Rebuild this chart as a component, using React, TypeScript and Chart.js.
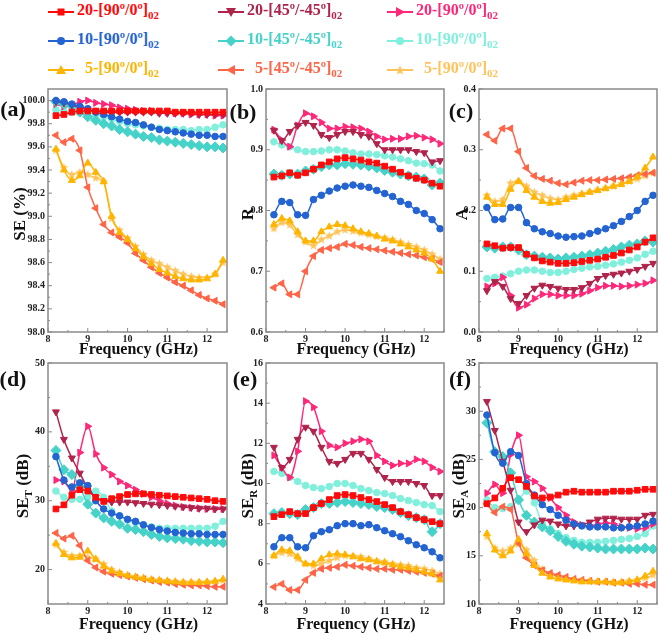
import React, { useEffect, useRef } from "react";
import { Chart, registerables } from "chart.js";

Chart.register(...registerables);

// ---------------- data ----------------
const FREQ = [8.2, 8.4, 8.6, 8.8, 9.0, 9.2, 9.4, 9.6, 9.8, 10.0, 10.2, 10.4, 10.6, 10.8, 11.0, 11.2, 11.4, 11.6, 11.8, 12.0, 12.2, 12.4];
const X_TICKS = [8, 9, 10, 11, 12];

const SERIES_LABELS = ["20-[90º/0º]", "10-[90º/0º]", "5-[90º/0º]", "20-[45º/-45º]", "10-[45º/-45º]", "5-[45º/-45º]", "20-[90º/0º]", "10-[90º/0º]", "5-[90º/0º]"];
const SERIES_SUB = "02";

// (a) SE (%)
const pctSE_20_90 = [99.87, 99.88, 99.9, 99.91, 99.91, 99.91, 99.91, 99.91, 99.91, 99.91, 99.91, 99.91, 99.91, 99.91, 99.91, 99.9, 99.9, 99.9, 99.9, 99.9, 99.9, 99.9];
const pctSE_10_90 = [100.0, 99.99, 99.97, 99.95, 99.93, 99.9, 99.88, 99.86, 99.84, 99.82, 99.81, 99.79, 99.77, 99.75, 99.74, 99.73, 99.72, 99.71, 99.7, 99.7, 99.69, 99.69];
const pctSE_5_90 = [99.58, 99.4, 99.31, 99.35, 99.46, 99.38, 99.3, 99.0, 98.86, 98.8, 98.72, 98.65, 98.59, 98.54, 98.51, 98.48, 98.46, 98.45, 98.45, 98.46, 98.5, 98.62];
const pctSE_20_45 = [99.99, 99.98, 99.96, 99.94, 99.92, 99.91, 99.9, 99.9, 99.9, 99.9, 99.9, 99.9, 99.9, 99.89, 99.89, 99.89, 99.89, 99.89, 99.88, 99.88, 99.88, 99.88];
const pctSE_10_45 = [99.99, 99.97, 99.95, 99.9, 99.86, 99.83, 99.8, 99.78, 99.75, 99.73, 99.71, 99.69, 99.68, 99.66, 99.65, 99.64, 99.63, 99.62, 99.61, 99.6, 99.6, 99.59];
const pctSE_5_45 = [99.7, 99.64, 99.67, 99.57, 99.25, 99.07, 98.93, 98.86, 98.82, 98.77, 98.68, 98.62, 98.56, 98.51, 98.47, 98.43, 98.4, 98.36, 98.32, 98.29, 98.27, 98.24];
const pctSE_20_90b = [99.97, 99.95, 99.96, 99.99, 100.0, 99.98, 99.97, 99.96, 99.94, 99.93, 99.92, 99.91, 99.91, 99.9, 99.9, 99.89, 99.89, 99.88, 99.88, 99.88, 99.87, 99.87];
const pctSE_10_90b = [99.92, 99.91, 99.9, 99.91, 99.9, 99.88, 99.86, 99.84, 99.82, 99.8, 99.79, 99.78, 99.77, 99.76, 99.75, 99.75, 99.75, 99.74, 99.75, 99.75, 99.77, 99.79];
const pctSE_5_90b = [99.57, 99.42, 99.36, 99.38, 99.36, 99.33, 99.3, 98.98, 98.88, 98.81, 98.74, 98.67, 98.62, 98.59, 98.56, 98.53, 98.5, 98.48, 98.47, 98.47, 98.5, 98.6];

// (b) R
const R_20_90 = [0.855, 0.857, 0.862, 0.858, 0.862, 0.868, 0.875, 0.88, 0.885, 0.887, 0.885, 0.883, 0.88, 0.878, 0.873, 0.868, 0.863, 0.857, 0.853, 0.85, 0.845, 0.84];
const R_10_90 = [0.793, 0.815, 0.813, 0.793, 0.792, 0.818, 0.825, 0.832, 0.837, 0.84, 0.842, 0.84, 0.838, 0.833, 0.828, 0.823, 0.815, 0.81, 0.8, 0.795, 0.785, 0.77];
const R_5_90 = [0.777, 0.787, 0.783, 0.765, 0.75, 0.75, 0.765, 0.773, 0.777, 0.775, 0.77, 0.765, 0.762, 0.758, 0.753, 0.75, 0.745, 0.74, 0.735, 0.73, 0.72, 0.7];
const R_20_45 = [0.932, 0.915, 0.93, 0.94, 0.945, 0.94, 0.925, 0.92, 0.925, 0.93, 0.93, 0.925, 0.922, 0.91, 0.9, 0.9, 0.9, 0.9, 0.897, 0.895, 0.88, 0.882];
const R_10_45 = [0.86, 0.858, 0.86, 0.86, 0.865, 0.868, 0.872, 0.875, 0.875, 0.877, 0.876, 0.875, 0.873, 0.87, 0.866, 0.863, 0.86, 0.857, 0.855, 0.852, 0.842, 0.845];
const R_5_45 = [0.673, 0.68, 0.662, 0.662, 0.7, 0.725, 0.735, 0.738, 0.74, 0.745, 0.743, 0.74, 0.738, 0.736, 0.734, 0.732, 0.73, 0.728, 0.726, 0.723, 0.72, 0.715];
const R_20_90b = [0.933, 0.916, 0.905, 0.94, 0.96, 0.955, 0.945, 0.935, 0.935, 0.938, 0.937, 0.935, 0.93, 0.922, 0.917, 0.918, 0.918, 0.922, 0.923, 0.92, 0.917, 0.91];
const R_10_90b = [0.913, 0.908, 0.905, 0.9, 0.897, 0.897, 0.898, 0.9, 0.9, 0.898, 0.895, 0.893, 0.893, 0.892, 0.89, 0.888, 0.885, 0.882, 0.878, 0.877, 0.875, 0.865];
const R_5_90b = [0.77, 0.78, 0.776, 0.76, 0.748, 0.742, 0.752, 0.758, 0.765, 0.768, 0.766, 0.763, 0.76, 0.757, 0.755, 0.752, 0.748, 0.744, 0.74, 0.735, 0.728, 0.72];

// (c) A
const A_20_90 = [0.145, 0.142, 0.138, 0.139, 0.139, 0.128, 0.122, 0.117, 0.115, 0.113, 0.113, 0.114, 0.116, 0.118, 0.12, 0.123, 0.126, 0.13, 0.135, 0.14, 0.148, 0.155];
const A_10_90 = [0.205, 0.185, 0.186, 0.205, 0.205, 0.18, 0.17, 0.165, 0.162, 0.158, 0.156, 0.157, 0.158, 0.162, 0.166, 0.17, 0.175, 0.182, 0.19, 0.2, 0.215, 0.225];
const A_5_90 = [0.222, 0.21, 0.21, 0.235, 0.248, 0.233, 0.222, 0.215, 0.212, 0.213, 0.218, 0.222, 0.226, 0.23, 0.233, 0.236, 0.24, 0.243, 0.248, 0.255, 0.27, 0.288];
const A_20_45 = [0.068, 0.083, 0.075, 0.055, 0.047, 0.06, 0.072, 0.077, 0.075, 0.072, 0.07, 0.07, 0.073, 0.08, 0.088, 0.093, 0.095, 0.097, 0.1, 0.103, 0.108, 0.113];
const A_10_45 = [0.14, 0.138, 0.14, 0.14, 0.135, 0.127, 0.125, 0.123, 0.122, 0.12, 0.122, 0.123, 0.125, 0.127, 0.13, 0.133, 0.136, 0.14, 0.143, 0.145, 0.15, 0.148];
const A_5_45 = [0.325, 0.315, 0.335, 0.335, 0.297, 0.27, 0.257, 0.252, 0.249, 0.245, 0.243, 0.246, 0.249, 0.25, 0.25, 0.251, 0.252, 0.253, 0.255, 0.258, 0.26, 0.262];
const A_20_90b = [0.075, 0.08, 0.09, 0.06, 0.04, 0.045, 0.055, 0.062, 0.062, 0.06, 0.06, 0.06, 0.063, 0.068, 0.073, 0.076, 0.076, 0.075, 0.076, 0.078, 0.08, 0.085];
const A_10_90b = [0.088, 0.09, 0.092, 0.096, 0.1, 0.102, 0.102, 0.1, 0.098, 0.098, 0.1, 0.103, 0.105, 0.107, 0.108, 0.11, 0.112, 0.115, 0.118, 0.122, 0.128, 0.133];
const A_5_90b = [0.225, 0.215, 0.218, 0.245, 0.248, 0.24, 0.23, 0.225, 0.22, 0.218, 0.222, 0.225, 0.228, 0.231, 0.234, 0.237, 0.24, 0.244, 0.248, 0.252, 0.257, 0.262];

// (d) SE_T (dB)
const SET_20_90 = [28.8, 29.4, 30.8, 31.6, 31.4, 30.5, 29.9, 30.3, 30.6, 30.9, 31.0, 31.0, 30.9, 30.8, 30.7, 30.6, 30.5, 30.4, 30.3, 30.2, 30.0, 29.9];
const SET_10_90 = [36.4, 33.0, 32.0, 32.6, 32.2, 30.0, 28.8, 28.2, 27.8, 27.3, 27.0, 26.5, 26.1, 25.8, 25.6, 25.4, 25.3, 25.2, 25.2, 25.1, 25.1, 25.1];
const SET_5_90 = [23.8, 22.2, 21.7, 21.8, 22.7, 21.5, 20.5, 19.8, 19.4, 19.1, 18.9, 18.7, 18.5, 18.4, 18.3, 18.2, 18.1, 18.1, 18.1, 18.2, 18.3, 18.6];
const SET_20_45 = [42.9, 38.9, 36.2, 34.0, 31.8, 30.5, 30.0, 29.8, 29.8, 29.8, 29.7, 29.6, 29.5, 29.4, 29.3, 29.2, 29.1, 29.0, 28.9, 28.9, 28.8, 28.8];
const SET_10_45 = [37.3, 34.5, 33.8, 32.0, 29.5, 28.2, 27.5, 27.0, 26.6, 26.0, 25.8, 25.5, 25.1, 24.8, 24.6, 24.5, 24.4, 24.2, 24.1, 24.0, 24.0, 23.9];
const SET_5_45 = [25.3, 24.5, 24.9, 23.5, 21.3, 20.3, 19.7, 19.4, 19.2, 19.0, 18.8, 18.6, 18.4, 18.2, 18.1, 17.9, 17.8, 17.7, 17.7, 17.6, 17.5, 17.5];
const SET_20_90b = [33.0, 32.8, 31.5, 37.0, 40.8, 36.8, 34.8, 33.8, 32.8, 32.2, 31.6, 31.0, 30.5, 30.0, 29.6, 29.3, 29.1, 29.0, 28.9, 28.8, 28.8, 28.8];
const SET_10_90b = [31.4, 30.5, 30.2, 30.2, 30.5, 31.4, 30.5, 28.5, 27.8, 27.2, 26.8, 26.5, 26.2, 26.0, 26.0, 26.0, 26.0, 26.0, 26.0, 26.0, 26.3, 27.0];
const SET_5_90b = [23.6, 22.5, 22.0, 22.0, 21.8, 21.5, 20.8, 20.0, 19.6, 19.2, 19.0, 18.8, 18.6, 18.5, 18.4, 18.3, 18.2, 18.2, 18.2, 18.2, 18.3, 18.4];

// (e) SE_R (dB)
const SER_20_90 = [8.35, 8.45, 8.6, 8.5, 8.5, 8.8, 9.0, 9.2, 9.4, 9.45, 9.4, 9.3, 9.2, 9.1, 8.95, 8.8, 8.6, 8.45, 8.3, 8.2, 8.1, 8.0];
const SER_10_90 = [6.85, 7.3, 7.3, 6.85, 6.8, 7.4, 7.6, 7.7, 7.9, 8.0, 8.0, 7.9, 7.95, 7.8, 7.65, 7.5, 7.35, 7.15, 6.95, 6.8, 6.6, 6.3];
const SER_5_90 = [6.4, 6.7, 6.65, 6.35, 6.0, 6.0, 6.25, 6.45, 6.5, 6.45, 6.35, 6.25, 6.2, 6.1, 6.05, 5.95, 5.85, 5.8, 5.7, 5.6, 5.5, 5.2];
const SER_20_45 = [11.8, 10.8, 11.2, 12.2, 12.8, 12.6, 11.8, 11.1, 11.0, 11.2, 11.5, 11.5, 11.2, 10.7, 10.3, 10.1, 10.1, 10.1, 10.0, 9.9, 9.4, 9.4];
const SER_10_45 = [8.5, 8.55, 8.5, 8.45, 8.7, 8.8, 9.0, 9.0, 9.05, 9.1, 9.05, 9.0, 8.95, 8.85, 8.8, 8.7, 8.55, 8.4, 8.3, 8.2, 7.6, 8.0];
const SER_5_45 = [4.85, 5.0, 4.7, 4.7, 5.2, 5.55, 5.75, 5.8, 5.85, 5.95, 5.9, 5.85, 5.8, 5.75, 5.75, 5.7, 5.7, 5.65, 5.6, 5.55, 5.5, 5.4];
const SER_20_90b = [11.4, 10.8, 10.3, 11.6, 14.1, 13.8, 12.6, 11.9, 11.8, 12.0, 12.1, 12.2, 12.1, 11.4, 11.1, 10.9, 11.0, 11.0, 11.2, 11.1, 10.8, 10.6];
const SER_10_90b = [10.6, 10.5, 10.3, 10.1, 9.9, 9.8, 9.75, 9.85, 10.0, 10.0, 9.9, 9.75, 9.65, 9.55, 9.5, 9.4, 9.25, 9.15, 9.05, 8.95, 8.9, 8.6];
const SER_5_90b = [6.4, 6.55, 6.5, 6.25, 6.0, 5.9, 6.0, 6.15, 6.3, 6.4, 6.4, 6.35, 6.25, 6.15, 6.1, 6.0, 5.95, 5.9, 5.8, 5.75, 5.65, 5.5];

// (f) SE_A (dB)
const SEA_20_90 = [20.4, 21.0, 22.0, 23.1, 22.9, 22.2, 21.2, 21.0, 21.1, 21.3, 21.6, 21.7, 21.6, 21.6, 21.6, 21.6, 21.7, 21.7, 21.7, 21.8, 21.9, 21.9];
const SEA_10_90 = [29.6, 25.7, 24.6, 25.8, 25.4, 22.5, 21.3, 20.3, 19.8, 19.2, 18.7, 18.3, 18.1, 18.0, 18.0, 18.0, 17.9, 17.9, 18.0, 18.1, 18.3, 18.6];
const SEA_5_90 = [17.3, 15.6, 15.0, 15.5, 16.7, 15.2, 14.0, 13.2, 12.8, 12.6, 12.5, 12.4, 12.3, 12.3, 12.3, 12.3, 12.2, 12.2, 12.3, 12.5, 12.9, 13.4];
const SEA_20_45 = [31.0, 28.0, 24.8, 21.8, 18.5, 17.5, 18.2, 18.7, 18.6, 18.3, 18.1, 18.1, 18.2, 18.5, 18.8, 18.9, 18.9, 18.8, 18.8, 18.8, 19.2, 19.3];
const SEA_10_45 = [28.8, 25.8, 25.3, 23.6, 20.8, 19.2, 18.5, 18.0, 17.6, 17.0, 16.5, 16.2, 16.0, 15.9, 15.8, 15.7, 15.7, 15.7, 15.7, 15.7, 15.8, 15.7];
const SEA_5_45 = [20.4, 19.5, 20.1, 19.8, 16.3, 14.8, 14.0, 13.5, 13.2, 13.0, 12.8, 12.6, 12.5, 12.4, 12.3, 12.3, 12.2, 12.2, 12.1, 12.1, 12.0, 12.0];
const SEA_20_90b = [21.5, 22.4, 21.5, 25.5, 27.5, 23.2, 22.7, 22.0, 21.0, 20.0, 19.2, 18.5, 18.2, 18.1, 18.3, 18.4, 18.3, 18.0, 17.9, 17.8, 17.9, 18.3];
const SEA_10_90b = [20.8, 20.0, 19.9, 20.1, 20.8, 21.7, 20.5, 18.3, 17.8, 17.3, 16.9, 16.6, 16.4, 16.4, 16.4, 16.5, 16.6, 16.7, 16.8, 17.0, 17.3, 18.1];
const SEA_5_90b = [17.0, 15.8, 15.5, 15.8, 16.2, 15.6, 14.5, 13.6, 13.1, 12.8, 12.6, 12.5, 12.4, 12.4, 12.3, 12.3, 12.3, 12.3, 12.4, 12.5, 12.7, 13.0];

const A_Y_TICKS = [98.0, 98.2, 98.4, 98.6, 98.8, 99.0, 99.2, 99.4, 99.6, 99.8, 100.0];
const B_Y_TICKS = [0.6, 0.7, 0.8, 0.9, 1.0];
const C_Y_TICKS = [0.0, 0.1, 0.2, 0.3, 0.4];
const D_Y_TICKS = [20, 30, 40, 50];
const E_Y_TICKS = [4, 6, 8, 10, 12, 14, 16];
const F_Y_TICKS = [10, 15, 20, 25, 30, 35];

// ---------------- styles ----------------
const FONT = "'Liberation Serif', 'Times New Roman', serif";
const COLORS = ["#FF0A0A", "#2364D2", "#FFB400", "#B0234A", "#45D2C8", "#FF6446", "#FF2878", "#80F0DC", "#FFC35A"];
const SHAPES = ["rect", "circle", "triUp", "triDown", "diamond", "triLeft", "triRight", "circle", "star"];

const COL_LEFT = [48, 266, 479];
const COL_W = [181, 180, 180];
const ROW_TOP = [88, 362];
const ROW_H = [244, 242];
const Y_AXIS_W = 42;
const PAD_T = 8;
const PAD_R = 4;
const X_AXIS_H = 16;

type Title = { main: string; sub?: string; rest?: string };

const PANELS = [
  { label: "(a)", col: 0, row: 0, yMin: 98.0, yMax: 100.1, yTicks: A_Y_TICKS, dec: 1, title: { main: "SE (%)" } as Title, labelPos: [13, 109], titlePos: [19, 214],
    data: [pctSE_20_90, pctSE_10_90, pctSE_5_90, pctSE_20_45, pctSE_10_45, pctSE_5_45, pctSE_20_90b, pctSE_10_90b, pctSE_5_90b] },
  { label: "(b)", col: 1, row: 0, yMin: 0.6, yMax: 1.0, yTicks: B_Y_TICKS, dec: 1, title: { main: "R" } as Title, labelPos: [243, 112], titlePos: [247, 214],
    data: [R_20_90, R_10_90, R_5_90, R_20_45, R_10_45, R_5_45, R_20_90b, R_10_90b, R_5_90b] },
  { label: "(c)", col: 2, row: 0, yMin: 0.0, yMax: 0.4, yTicks: C_Y_TICKS, dec: 1, title: { main: "A" } as Title, labelPos: [461, 111], titlePos: [461, 214],
    data: [A_20_90, A_10_90, A_5_90, A_20_45, A_10_45, A_5_45, A_20_90b, A_10_90b, A_5_90b] },
  { label: "(d)", col: 0, row: 1, yMin: 15, yMax: 50, yTicks: D_Y_TICKS, dec: 0, title: { main: "SE", sub: "T", rest: " (dB)" } as Title, labelPos: [13, 379], titlePos: [24, 486],
    data: [SET_20_90, SET_10_90, SET_5_90, SET_20_45, SET_10_45, SET_5_45, SET_20_90b, SET_10_90b, SET_5_90b] },
  { label: "(e)", col: 1, row: 1, yMin: 4, yMax: 16, yTicks: E_Y_TICKS, dec: 0, title: { main: "SE", sub: "R", rest: " (dB)" } as Title, labelPos: [245, 379], titlePos: [249, 486],
    data: [SER_20_90, SER_10_90, SER_5_90, SER_20_45, SER_10_45, SER_5_45, SER_20_90b, SER_10_90b, SER_5_90b] },
  { label: "(f)", col: 2, row: 1, yMin: 10, yMax: 35, yTicks: F_Y_TICKS, dec: 0, title: { main: "SE", sub: "A", rest: " (dB)" } as Title, labelPos: [460, 379], titlePos: [460, 486],
    data: [SEA_20_90, SEA_10_90, SEA_5_90, SEA_20_45, SEA_10_45, SEA_5_45, SEA_20_90b, SEA_10_90b, SEA_5_90b] },
];

const X_TITLE_Y = [349, 624];

function makeStar(color: string, r: number) {
  const c = document.createElement("canvas");
  const s = Math.ceil(r * 2 + 2);
  c.width = s;
  c.height = s;
  const ctx = c.getContext("2d")!;
  ctx.fillStyle = color;
  ctx.beginPath();
  for (let i = 0; i < 10; i++) {
    const ang = -Math.PI / 2 + (i * Math.PI) / 5;
    const rr = i % 2 === 0 ? r : r * 0.45;
    ctx.lineTo(s / 2 + rr * Math.cos(ang), s / 2 + rr * Math.sin(ang));
  }
  ctx.closePath();
  ctx.fill();
  return c;
}

function pointProps(shape: string, color: string): any {
  switch (shape) {
    case "rect": return { pointStyle: "rect", pointRadius: 4, pointRotation: 0 };
    case "circle": return { pointStyle: "circle", pointRadius: 3.3, pointRotation: 0 };
    case "triUp": return { pointStyle: "triangle", pointRadius: 4, pointRotation: 0 };
    case "triDown": return { pointStyle: "triangle", pointRadius: 4, pointRotation: 180 };
    case "diamond": return { pointStyle: "rectRot", pointRadius: 5, pointRotation: 0 };
    case "triLeft": return { pointStyle: "triangle", pointRadius: 4, pointRotation: -90 };
    case "triRight": return { pointStyle: "triangle", pointRadius: 4, pointRotation: 90 };
    case "star": return { pointStyle: makeStar(color, 4.5), pointRadius: 4, pointRotation: 0 };
  }
  return {};
}

const framePlugin = {
  id: "frame",
  afterDraw(chart: any) {
    const { ctx, chartArea } = chart;
    const { left, top, right, bottom } = chartArea;
    const xs = chart.scales.x;
    const ys = chart.scales.y;
    ctx.save();
    ctx.strokeStyle = "#8a8a8a";
    ctx.lineWidth = 1.5;
    ctx.strokeRect(left, top, right - left, bottom - top);
    ctx.lineWidth = 1;
    ctx.beginPath();
    const yt: number[] = chart.options.plugins.frame.yTicks;
    for (let i = 0; i < yt.length; i++) {
      const py = ys.getPixelForValue(yt[i]);
      ctx.moveTo(left, py);
      ctx.lineTo(left + 4, py);
      if (i < yt.length - 1) {
        const pm = ys.getPixelForValue((yt[i] + yt[i + 1]) / 2);
        ctx.moveTo(left, pm);
        ctx.lineTo(left + 2, pm);
      }
    }
    for (let v = 8; v <= 12.5; v += 0.5) {
      const px = xs.getPixelForValue(v);
      const major = Math.abs(v - Math.round(v)) < 1e-6;
      ctx.moveTo(px, bottom);
      ctx.lineTo(px, bottom - (major ? 4 : 2));
    }
    ctx.stroke();
    ctx.restore();
  },
};

function Panel({ spec }: { spec: (typeof PANELS)[number] }) {
  const ref = useRef<HTMLCanvasElement>(null);
  const w = Y_AXIS_W + COL_W[spec.col] + PAD_R;
  const h = PAD_T + ROW_H[spec.row] + X_AXIS_H;
  useEffect(() => {
    if (!ref.current) return;
    const tickFont = { family: FONT, size: 10, weight: "bold" as const };
    const datasets = spec.data.map((vals, i) => ({
      label: SERIES_LABELS[i],
      data: vals.map((v, k) => ({ x: FREQ[k], y: v })),
      borderColor: COLORS[i],
      backgroundColor: COLORS[i],
      pointBackgroundColor: COLORS[i],
      pointBorderColor: COLORS[i],
      pointBorderWidth: 1,
      borderWidth: 1.5,
      cubicInterpolationMode: "monotone" as const,
      ...pointProps(SHAPES[i], COLORS[i]),
    }));
    const chart = new Chart(ref.current, {
      type: "line",
      data: { datasets },
      plugins: [framePlugin],
      options: {
        animation: false,
        responsive: false,
        events: [],
        layout: { padding: { top: PAD_T, right: PAD_R, left: 0, bottom: 0 } },
        plugins: {
          legend: { display: false },
          tooltip: { enabled: false },
          // @ts-ignore
          frame: { yTicks: spec.yTicks },
        },
        scales: {
          x: {
            type: "linear",
            min: 8,
            max: 12.5,
            afterBuildTicks: (s: any) => { s.ticks = X_TICKS.map((v) => ({ value: v })); },
            afterFit: (s: any) => { s.height = X_AXIS_H; },
            grid: { display: false, drawTicks: false },
            border: { display: false },
            ticks: { font: tickFont, color: "#222", padding: 1, maxRotation: 0, autoSkip: false, callback: (v: any) => String(v) },
          },
          y: {
            type: "linear",
            min: spec.yMin,
            max: spec.yMax,
            afterBuildTicks: (s: any) => { s.ticks = spec.yTicks.map((v) => ({ value: v })); },
            afterFit: (s: any) => { s.width = Y_AXIS_W; },
            grid: { display: false, drawTicks: false },
            border: { display: false },
            ticks: { font: tickFont, color: "#222", padding: 3, autoSkip: false, callback: (v: any) => Number(v).toFixed(spec.dec) },
          },
        },
      },
    });
    return () => chart.destroy();
  }, []);
  return (
    <div style={{ position: "absolute", left: COL_LEFT[spec.col] - Y_AXIS_W, top: ROW_TOP[spec.row] - PAD_T, width: w, height: h }}>
      <canvas ref={ref} width={w} height={h} style={{ display: "block", width: w, height: h }} />
    </div>
  );
}

function Marker({ shape, color }: { shape: string; color: string }) {
  let m: React.ReactNode = null;
  if (shape === "rect") m = <rect x={9.5} y={3.5} width={7} height={7} fill={color} />;
  else if (shape === "circle") m = <circle cx={13} cy={7} r={4} fill={color} />;
  else if (shape === "triUp") m = <polygon points="13,2 18,11 8,11" fill={color} />;
  else if (shape === "triDown") m = <polygon points="8,3 18,3 13,12" fill={color} />;
  else if (shape === "diamond") m = <polygon points="13,1.5 18.5,7 13,12.5 7.5,7" fill={color} />;
  else if (shape === "triLeft") m = <polygon points="8,7 17,2 17,12" fill={color} />;
  else if (shape === "triRight") m = <polygon points="18,7 9,2 9,12" fill={color} />;
  else if (shape === "star") {
    const pts: string[] = [];
    for (let i = 0; i < 10; i++) {
      const ang = -Math.PI / 2 + (i * Math.PI) / 5;
      const rr = i % 2 === 0 ? 5 : 2.2;
      pts.push(`${(13 + rr * Math.cos(ang)).toFixed(2)},${(7.5 + rr * Math.sin(ang)).toFixed(2)}`);
    }
    m = <polygon points={pts.join(" ")} fill={color} />;
  }
  return (
    <svg width={26} height={14} style={{ display: "block", flex: "none" }}>
      <line x1={0} y1={7} x2={26} y2={7} stroke={color} strokeWidth={2} />
      {m}
    </svg>
  );
}

const LEGEND_X = [48, 218, 387];
const LEGEND_Y = [12, 41, 70];

function Legend() {
  return (
    <>
      {SERIES_LABELS.map((lab, i) => {
        const col = Math.floor(i / 3);
        const row = i % 3;
        return (
          <div key={i} style={{ position: "absolute", left: LEGEND_X[col], top: LEGEND_Y[row] - 10, height: 20, display: "flex", alignItems: "center", whiteSpace: "nowrap" }}>
            <Marker shape={SHAPES[i]} color={COLORS[i]} />
            <span style={{ marginLeft: row === 2 ? 11 : 3, color: COLORS[i], fontFamily: FONT, fontWeight: "bold", fontSize: 16, lineHeight: "20px" }}>
              {lab}
              <sub style={{ fontSize: 11, verticalAlign: "-4px" }}>{SERIES_SUB}</sub>
            </span>
          </div>
        );
      })}
    </>
  );
}

function YTitle({ t, x, y }: { t: Title; x: number; y: number }) {
  return (
    <div style={{ position: "absolute", left: x, top: y, transform: "translate(-50%,-50%) rotate(-90deg)", whiteSpace: "nowrap", fontFamily: FONT, fontWeight: "bold", fontSize: 17, lineHeight: 1, color: "#111" }}>
      {t.main}
      {t.sub ? <sub style={{ fontSize: 11, verticalAlign: "-4px" }}>{t.sub}</sub> : null}
      {t.rest || ""}
    </div>
  );
}

function Centered({ x, y, size, children }: { x: number; y: number; size: number; children: React.ReactNode }) {
  return (
    <div style={{ position: "absolute", left: x, top: y, transform: "translate(-50%,-50%)", whiteSpace: "nowrap", fontFamily: FONT, fontWeight: "bold", fontSize: size, lineHeight: 1, color: "#111" }}>
      {children}
    </div>
  );
}

export default function App() {
  return (
    <div style={{ position: "absolute", left: 0, top: 0, width: 661, height: 636, background: "#fff", overflow: "hidden" }}>
      {PANELS.map((p, i) => <Panel key={i} spec={p} />)}
      <Legend />
      {PANELS.map((p, i) => (
        <React.Fragment key={"t" + i}>
          <Centered x={p.labelPos[0]} y={p.labelPos[1]} size={22}>{p.label}</Centered>
          <YTitle t={p.title} x={p.titlePos[0]} y={p.titlePos[1]} />
          <Centered x={COL_LEFT[p.col] + COL_W[p.col] / 2} y={X_TITLE_Y[p.row]} size={16}>Frequency (GHz)</Centered>
        </React.Fragment>
      ))}
    </div>
  );
}
